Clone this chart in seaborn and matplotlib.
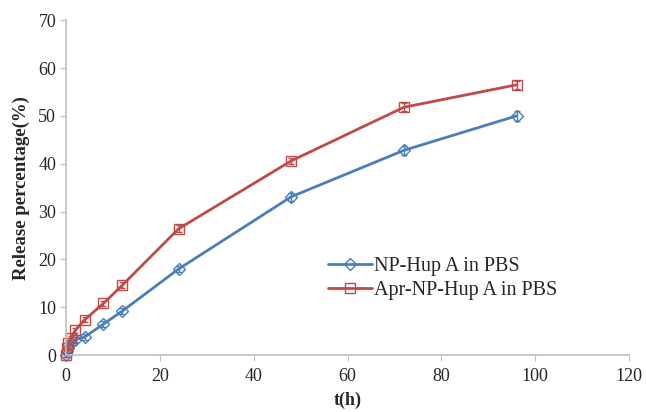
import numpy as np
import pandas as pd
import matplotlib
matplotlib.use("Agg")
import matplotlib.pyplot as plt
import seaborn as sns

# ── Data ───────────────────────────────────────────────────────────────────────
TIME_H   = [0, 0.25, 0.5, 1, 2, 4, 8, 12, 24, 48, 72, 96]
NP_HUP   = [0, 0.8, 1.5, 2.5, 3.2, 3.8, 6.5, 9.2, 18.0, 33.1, 42.8, 50.0]
NP_ERR   = [0.3, 0.4, 0.4, 0.5, 0.5, 0.6, 0.6, 0.7, 0.7, 0.8, 0.9, 1.0]
APR_HUP  = [0, 1.5, 2.5, 3.5, 5.2, 7.4, 10.8, 14.6, 26.4, 40.6, 51.8, 56.5]
APR_ERR  = [0.3, 0.4, 0.4, 0.5, 0.5, 0.5, 0.6, 0.6, 0.7, 0.7, 0.8, 0.8]
LABELS   = ["NP-Hup A in PBS", "Apr-NP-Hup A in PBS"]
X_TICKS  = [0, 20, 40, 60, 80, 100, 120]
Y_TICKS  = [0, 10, 20, 30, 40, 50, 60, 70]

BLUE = "#4a7ebb"
RED  = "#be4b48"
GREY = "#bfbfbf"

sns.set_style("white")
plt.rcParams["font.family"] = ["Liberation Serif", "DejaVu Serif"]

df = pd.DataFrame({
    "t": TIME_H * 2,
    "release": NP_HUP + APR_HUP,
    "err": NP_ERR + APR_ERR,
    "series": [LABELS[0]] * len(TIME_H) + [LABELS[1]] * len(TIME_H),
})

fig = plt.figure(figsize=(6.46, 4.12), dpi=100)
ax = fig.add_axes([0.102, 0.138, 0.872, 0.813])

sns.lineplot(data=df, x="t", y="release", hue="series", style="series",
             palette={LABELS[0]: BLUE, LABELS[1]: RED},
             markers={LABELS[0]: "D", LABELS[1]: "s"}, dashes=False,
             markersize=6.5, markerfacecolor="none", markeredgewidth=1.0,
             linewidth=2, ax=ax, legend=True)

# hollow markers in the series colour
for line, col in zip(ax.lines[:2], [BLUE, RED]):
    line.set_markeredgecolor(col)
    line.set_markerfacecolor("none")

for lab, col in zip(LABELS, [BLUE, RED]):
    sub = df[df["series"] == lab]
    ax.errorbar(sub["t"], sub["release"], yerr=sub["err"], fmt="none",
                ecolor=col, elinewidth=1, capsize=2, zorder=1)

ax.set_xlim(0, 120)
ax.set_ylim(0, 70)
ax.set_xticks(X_TICKS)
ax.set_yticks(Y_TICKS)
ax.tick_params(axis="both", labelsize=13, direction="out", length=4,
               color=GREY, bottom=True, left=True)
ax.tick_params(axis="x", pad=5)
ax.tick_params(axis="y", pad=3)
for s in ["top", "right"]:
    ax.spines[s].set_visible(False)
for s in ["left", "bottom"]:
    ax.spines[s].set_color(GREY)
    ax.spines[s].set_linewidth(1.2)
for art in ax.lines:
    art.set_clip_on(False)

ax.set_xlabel("t(h)", fontsize=13, fontweight="bold", labelpad=5)
ax.set_ylabel("Release percentage(%)", fontsize=13.5, fontweight="bold", labelpad=6)

handles, labels = ax.get_legend_handles_labels()
for h, col in zip(handles, [BLUE, RED]):
    h.set_markerfacecolor("none")
    h.set_markeredgecolor(col)
ax.legend(handles, labels, loc="center left", bbox_to_anchor=(0.465, 0.23),
          frameon=False, fontsize=14.5, handlelength=2.2, handletextpad=0.1,
          labelspacing=0.25, borderaxespad=0, borderpad=0)

fig.savefig("out.png", dpi=100, facecolor="white")
